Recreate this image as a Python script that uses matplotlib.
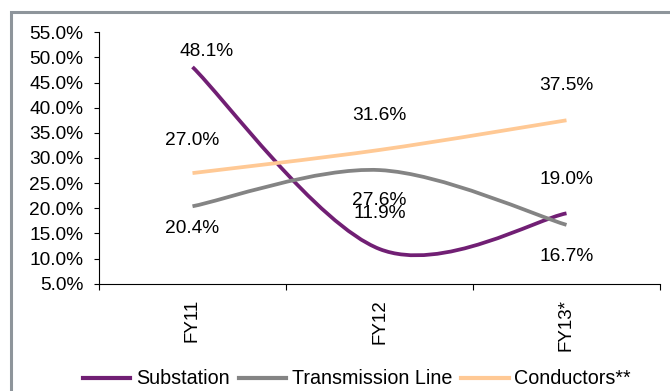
import matplotlib.pyplot as plt
from matplotlib.path import Path
from matplotlib.patches import PathPatch, Rectangle
from matplotlib.lines import Line2D
from matplotlib.ticker import FixedLocator, FuncFormatter

plt.rcParams["font.family"] = "Liberation Sans"

# data
categories = ["FY11", "FY12", "FY13*"]
series_names = ["Substation", "Transmission Line", "Conductors**"]
substation = [48.1, 11.9, 19.0]
transmission = [20.4, 27.6, 16.7]
conductors = [27.0, 31.6, 37.5]

colors = ["#711f74", "#848484", "#ffc995"]
# label offsets in pixels (dx, dy) per point
label_offsets = [
    [(14, 15), (0, 36), (0, 34)],
    [(0, -22), (0, -30), (0, -32)],
    [(0, 33), (0, 34), (0, 35)],
]

fs = 13.5

fig = plt.figure(figsize=(6.70, 3.91), dpi=100)
ax = fig.add_axes([99 / 670, 1 - 283.7 / 391, (660 - 99) / 670, (283.7 - 32.3) / 391])

# outer chart border
fig.patches.append(Rectangle((11 / 670, -0.1), 1.2, 1.1 - 12 / 391, transform=fig.transFigure,
                             fill=False, edgecolor="#8e959b", linewidth=2.2, zorder=0))


def smooth_path(xs, ys):
    # excel-style smoothed line: catmull-rom control points -> cubic bezier
    n = len(xs)
    verts = [(xs[0], ys[0])]
    codes = [Path.MOVETO]
    for i in range(n - 1):
        p0 = (xs[max(i - 1, 0)], ys[max(i - 1, 0)])
        p1 = (xs[i], ys[i])
        p2 = (xs[i + 1], ys[i + 1])
        p3 = (xs[min(i + 2, n - 1)], ys[min(i + 2, n - 1)])
        c1 = (p1[0] + (p2[0] - p0[0]) / 6, p1[1] + (p2[1] - p0[1]) / 6)
        c2 = (p2[0] - (p3[0] - p1[0]) / 6, p2[1] - (p3[1] - p1[1]) / 6)
        verts += [c1, c2, p2]
        codes += [Path.CURVE4] * 3
    return Path(verts, codes)


xs = list(range(len(categories)))
all_series = [substation, transmission, conductors]
for vals, col, offs in zip(all_series, colors, label_offsets):
    ax.add_patch(PathPatch(smooth_path(xs, vals), fill=False, edgecolor=col,
                           linewidth=2.7, capstyle="butt", zorder=3))
    for x, v, (dx, dy) in zip(xs, vals, offs):
        ax.annotate(f"{v:.1f}%", (x, v), xytext=(dx, dy), textcoords="offset pixels",
                    ha="center", va="center", fontsize=fs + 0.3, color="black")

ax.set_xlim(-0.5, 2.5)
ax.set_ylim(5, 55)
ax.set_yticks([5 + 5 * i for i in range(11)])
ax.yaxis.set_major_formatter(FuncFormatter(lambda v, p: f"{v:.1f}%"))
ax.set_xticks(xs)
ax.set_xticklabels(categories, rotation=90, fontsize=fs)
ax.xaxis.set_minor_locator(FixedLocator([-0.5, 0.5, 1.5, 2.5]))
ax.tick_params(axis="x", which="major", length=0, pad=11)
ax.tick_params(axis="x", which="minor", length=4, width=0.8, direction="out")
ax.tick_params(axis="y", length=3.6, width=0.8, pad=7.5, labelsize=fs + 0.3)

for s in ["top", "right"]:
    ax.spines[s].set_visible(False)
for s in ["left", "bottom"]:
    ax.spines[s].set_linewidth(0.8)

handles = [Line2D([], [], color=c, linewidth=3) for c in colors]
fig.legend(handles, series_names, loc="center", bbox_to_anchor=(357 / 670, 1 - 379 / 391),
           ncol=3, frameon=False, fontsize=fs + 0.7, handlelength=2.4, handletextpad=0.3,
           columnspacing=0.45, borderaxespad=0)

fig.savefig("out.png", dpi=100)
